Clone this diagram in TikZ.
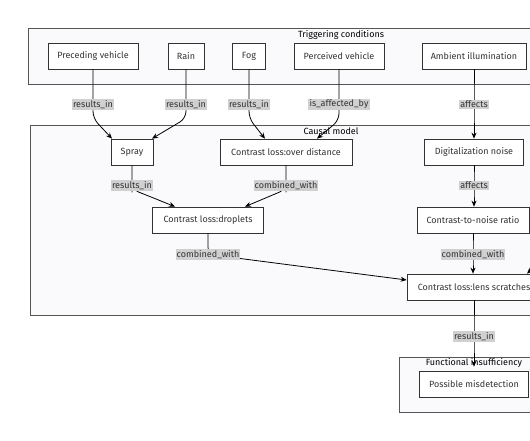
\documentclass[tikz,border=0pt]{standalone}
\usepackage{fontspec}
\setmainfont{Fira Sans}
\usetikzlibrary{positioning,arrows.meta}
\definecolor{clfill}{RGB}{250,250,252}
\definecolor{clline}{RGB}{85,85,85}
\definecolor{lblbg}{RGB}{208,208,208}
\definecolor{ink}{RGB}{51,51,51}

\begin{document}
\begin{tikzpicture}[
  x=1pt, y=-1pt,
  font=\fontsize{9}{10.5}\selectfont,
  grp/.style={draw=clline, line width=0.7pt, fill=clfill},
  grptitle/.style={text=black, inner sep=1pt},
  box/.style={draw=ink, line width=0.7pt, fill=white, text=ink,
              minimum height=26pt, inner sep=2pt},
  edge/.style={-{Stealth[length=6pt, width=5pt]}, line width=0.8pt, draw=black,
               rounded corners=7pt},
  lbl/.style={fill=lblbg, text=ink, inner sep=1.2pt, sharp corners},
]
\useasboundingbox (0,0) rectangle (530,440);
\clip (0,0) rectangle (530,440);

% ---- clusters ----
\draw[grp] (28,28) rectangle (654,84);
\node[grptitle] (trigt) at (341,35) {Triggering conditions};
\draw[grp] (30,125) rectangle (632,315);
\draw[grp] (399,357) rectangle (549,412);

% ---- triggering conditions ----
\node[box, minimum width=90pt] (prec) at (93,56) {Preceding vehicle};
\node[box, minimum width=36pt] (rain) at (186,56) {Rain};
\node[box, minimum width=33pt] (fog) at (249,56) {Fog};
\node[box, minimum width=90pt] (perc) at (339,56) {Perceived vehicle};
\node[box, minimum width=104pt] (amb) at (474,56) {Ambient illumination};

% ---- causal model ----
\node[box, minimum width=42pt] (spray) at (132,152) {Spray};
\node[box, minimum width=132pt] (overd) at (286,152) {Contrast loss:over distance};
\node[box, minimum width=99pt] (dign) at (474,152) {Digitalization noise};
\node[box, minimum width=111pt] (drop) at (208,220) {Contrast loss:droplets};
\node[box, minimum width=112pt] (cnr) at (473,220) {Contrast-to-noise ratio};
\node[box, minimum width=134pt] (lens) at (474,287) {Contrast loss:lens scratches};
\coordinate (offr) at (562,240);

% ---- functional insufficiency ----
\node[box, minimum width=109pt] (misd) at (474,384) {Possible misdetection};

% ---- edges ----
\draw[edge] (prec.south) -- ++(0,35) node[lbl] {results\_in} -- ++(0,14)
  -- ([xshift=-20pt]spray.north);
\draw[edge] (rain.south) -- ++(0,35) node[lbl] {results\_in} -- ++(0,14)
  -- ([xshift=20pt]spray.north);
\draw[edge] (fog.south) -- ++(0,35) node[lbl] {results\_in} -- ++(0,14)
  -- ([xshift=-21pt]overd.north);
\draw[edge] (perc.south) -- ++(0,35) node[lbl] {is\_affected\_by} -- ++(0,16)
  -- ([xshift=31pt]overd.north);
\draw[edge] (amb.south) -- ++(0,35) node[lbl] {affects} -- (amb.south |- dign.north);

\draw[edge] (spray.south) -- ++(0,20) node[lbl] {results\_in} -- ++(0,4)
  -- ([xshift=-33pt]drop.north);
\draw[edge] (overd.south) -- ++(0,20) node[lbl] {combined\_with} -- ++(0,4)
  -- ([xshift=37pt]drop.north);
\draw[edge] (dign.south) -- ++(0,20) node[lbl] {affects} -- (dign.south |- cnr.north);

\draw[edge] (drop.south) -- ++(0,21) node[lbl] {combined\_with}
  -- ([yshift=7pt]lens.west);
\draw[edge] (cnr.south) -- ++(0,21) node[lbl] {combined\_with} -- (cnr.south |- lens.north);
\draw[edge] (offr) -- ([xshift=53pt]lens.north);

\draw[edge] (lens.south) -- ++(0,36) node[lbl] {results\_in} -- ([yshift=4pt]misd.north);
\node[grptitle] (funct) at (474,363) {Functional insufficiency};
\node[grptitle] (caust) at (331,131) {Causal model};
\end{tikzpicture}
\end{document}
